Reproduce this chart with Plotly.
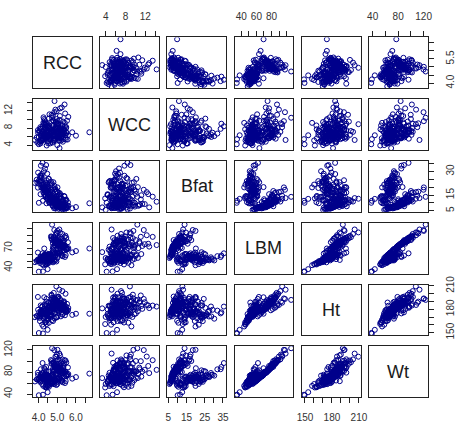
import plotly.graph_objects as go

names = ["RCC", "WCC", "Bfat", "LBM", "Ht", "Wt"]

rcc = [3.96,4.41,4.14,4.11,4.45,4.10,4.31,4.42,4.30,4.51,4.42,4.67,4.30,
       4.40,4.68,4.25,4.52,4.83,4.19,4.36,4.61,4.08,4.73,4.47,4.29,4.90,4.13,4.56,4.34,4.64,4.22,4.79,4.44,4.58,4.16,
       4.03,4.27,3.90,4.38,4.12,4.49,4.05,4.33,3.97,4.21,4.60,4.09,4.42,3.80,4.26,4.15,4.53,4.01,4.37,4.18,4.47,3.93,4.30,
       4.62,4.85,4.54,4.71,4.48,4.93,4.66,4.39,4.77,
       4.34,4.21,4.46,4.12,4.55,4.28,4.40,
       4.58,4.83,4.49,4.72,4.36,4.95,4.60,4.43,4.68,4.51,4.79,
       4.64,4.42,4.87,4.55,
       4.31,4.19,4.50,4.07,4.62,4.25,4.38,
       4.23,4.48,4.01,4.36,
       5.02,4.81,5.20,4.95,5.35,4.68,5.11,4.89,5.44,4.76,5.27,5.06,
       5.15,4.72,5.48,4.90,5.33,5.01,4.66,5.57,4.84,5.22,4.98,5.39,
       5.04,4.88,5.26,4.79,5.13,4.97,5.31,4.70,5.09,4.92,5.18,4.84,5.40,4.99,5.24,
       5.28,5.05,5.46,4.91,5.37,5.12,5.59,4.86,5.21,5.03,5.50,4.96,5.30,
       4.99,5.23,4.75,5.41,5.08,4.83,5.52,5.00,5.17,4.88,5.34,5.06,4.79,5.29,5.12,4.93,5.45,5.02,
       5.25,5.48,5.06,5.80,5.31,6.00,5.14,5.55,5.38,6.72,5.19,
       4.94,5.10,4.80,5.27,
       4.99,5.36,4.77,5.13,4.90,5.42,5.08,4.71,5.24,4.97,5.32,4.85,5.18,5.04,5.46,4.82,5.15]

wcc = [7.5,8.3,5.0,5.3,6.8,4.4,5.3,5.7,8.9,4.4,5.8,7.0,6.5,
       6.2,7.2,5.6,8.4,6.1,5.1,9.3,6.6,7.8,5.9,6.9,10.1,7.4,4.9,6.3,8.0,5.4,7.1,9.7,6.0,11.2,6.7,
       7.3,6.4,5.8,8.6,6.1,7.0,4.7,9.8,6.9,5.5,7.7,8.2,6.6,5.2,10.5,6.3,7.9,5.9,8.8,6.5,7.6,4.6,9.1,
       6.8,5.2,8.0,7.3,6.2,9.4,5.7,7.1,6.4,
       6.7,8.4,5.9,7.8,10.2,6.1,9.0,
       5.3,6.9,4.8,7.5,5.6,8.1,6.2,3.9,7.0,5.0,6.5,
       6.0,7.4,5.5,8.6,
       6.6,5.1,8.3,7.0,4.4,9.2,6.1,
       5.4,6.3,4.2,7.7,
       6.0,7.3,5.6,8.9,6.7,9.5,5.2,7.8,6.4,10.9,7.1,5.8,
       8.2,10.4,6.9,12.3,7.5,9.6,8.0,6.3,11.7,7.7,9.1,13.5,
       7.4,6.2,8.7,5.5,9.9,6.8,7.9,11.1,6.1,8.3,5.7,7.6,9.2,6.5,12.8,
       6.6,8.1,5.3,9.3,7.2,6.0,10.6,7.7,5.1,8.8,6.9,11.9,4.8,
       5.9,7.1,4.6,8.4,6.3,5.2,9.7,4.0,7.5,6.0,5.4,8.9,4.9,6.7,3.3,7.9,5.7,6.8,
       6.6,8.2,5.6,7.0,9.5,6.2,10.8,5.3,7.7,7.0,6.4,
       7.2,5.0,8.5,6.1,
       8.0,6.9,9.8,7.3,6.2,11.4,7.0,8.6,5.8,10.1,7.6,14.3,6.5,9.0,7.9,6.3,12.6]

bfat = [19.75,21.30,19.88,23.66,17.64,15.58,19.99,22.43,17.95,15.07,24.45,18.26,20.10,
        18.5,21.6,16.9,25.4,14.2,19.6,22.8,13.9,27.3,17.2,20.3,15.8,18.9,24.1,16.4,21.0,12.8,19.3,23.2,17.7,14.9,26.0,
        22.1,19.4,24.8,17.0,27.5,20.6,23.5,18.2,29.3,21.4,16.3,25.9,19.8,22.7,20.1,26.8,17.9,24.2,18.6,28.4,21.9,23.0,19.1,
        17.3,20.8,15.6,22.4,18.7,14.1,23.6,16.9,19.5,
        31.9,35.5,28.6,33.7,25.3,30.2,34.1,
        11.3,9.6,13.7,10.8,14.5,12.0,9.9,12.9,11.6,14.0,10.3,
        11.8,9.8,13.2,10.5,
        18.4,21.7,16.2,23.9,15.1,19.9,14.6,
        11.4,12.6,10.1,13.8,
        9.4,11.2,8.1,12.7,7.5,10.3,13.1,9.0,11.8,8.6,10.9,7.9,
        14.6,13.9,12.1,16.9,11.0,19.9,13.5,10.4,18.4,12.8,17.2,14.0,
        9.2,10.8,8.4,11.6,7.7,10.1,9.5,12.3,8.8,10.5,9.0,11.3,8.1,10.2,7.2,
        8.7,10.6,7.4,11.8,6.5,9.9,8.2,12.0,7.1,10.1,6.8,9.3,8.0,
        7.0,6.2,8.1,5.9,7.6,6.6,8.5,5.6,7.3,6.9,8.8,6.4,7.8,6.0,7.2,8.3,6.8,7.5,
        8.0,7.1,9.5,6.6,8.7,7.4,9.2,6.9,8.3,9.8,7.0,
        10.6,8.9,12.4,9.7,
        11.7,14.5,10.2,16.3,12.8,9.4,15.1,13.6,11.0,17.6,12.2,10.8,14.0,16.7,11.5,13.2,15.6]

lbm = [63.32,58.55,55.36,57.18,53.20,53.77,60.17,48.33,54.57,53.42,61.85,51.95,69.45,
       56.2,58.4,57.8,54.1,61.3,55.5,60.0,59.7,52.4,62.1,57.0,58.6,61.9,53.7,60.5,56.1,58.9,55.2,63.8,57.3,61.0,54.9,
       52.6,55.8,50.1,54.2,51.3,57.4,49.7,53.5,52.8,54.0,56.7,51.9,58.9,48.6,55.1,53.0,59.6,50.8,54.9,56.0,53.4,51.6,57.5,
       52.6,50.2,55.9,49.8,54.5,52.1,53.2,57.9,48.3,
       57.8,62.1,53.6,56.4,60.5,51.2,58.7,
       50.5,52.3,47.1,53.6,46.4,49.6,54.0,45.2,51.4,48.8,55.3,
       53.1,49.9,56.9,47.6,
       50.8,45.6,54.3,47.3,52.0,43.9,56.2,
       34.4,37.9,34.0,45.1,
       79.3,86.8,76.2,94.1,73.4,85.2,98.6,80.5,89.0,77.7,91.7,82.4,
       94.0,106.0,85.7,89.8,81.6,96.4,88.0,79.1,97.8,84.5,92.5,87.3,
       79.9,82.3,76.0,85.5,73.9,81.0,78.6,87.4,75.2,83.7,77.3,84.9,74.6,80.2,72.4,
       71.4,74.0,68.3,77.9,66.9,75.5,70.1,79.0,69.2,73.2,67.8,76.1,72.3,
       63.3,59.8,67.7,56.5,65.4,61.2,69.8,54.9,62.9,58.7,71.6,60.4,66.3,57.7,64.0,73.9,59.3,62.0,
       71.8,67.4,76.7,63.5,74.3,65.6,79.9,69.0,72.7,69.5,61.7,
       67.2,62.6,70.2,58.1,
       76.6,81.5,72.1,84.2,78.9,73.3,80.7,83.0,75.3,82.4,77.6,74.8,79.6,85.9,71.0,80.1,76.8]

ht = [195.9,189.7,177.8,185.0,184.6,174.0,186.2,173.8,171.4,179.9,193.4,188.7,195.5,
      176.0,181.5,178.6,172.0,183.9,175.3,185.0,179.5,170.7,186.8,177.2,174.6,180.4,173.3,182.6,176.9,178.1,171.8,188.4,175.9,184.2,174.1,
      176.3,180.2,171.5,174.9,178.0,182.7,168.9,173.7,179.4,175.1,181.3,172.4,186.5,169.8,177.5,176.8,189.0,170.6,174.3,183.6,172.9,171.0,180.9,
      172.7,168.3,176.4,166.0,174.2,170.1,173.4,179.6,164.9,
      178.3,183.5,170.8,174.7,181.9,167.9,176.1,
      171.2,174.6,166.4,176.9,163.2,169.4,178.5,161.0,172.8,168.1,179.7,
      170.5,165.3,175.8,162.7,
      169.9,160.2,175.0,164.8,172.2,157.9,179.1,
      148.9,153.6,149.5,163.0,
      195.3,201.1,191.4,209.4,188.1,198.8,205.2,193.7,200.0,190.3,203.4,196.4,
      188.5,192.1,183.2,185.6,180.4,194.0,186.9,178.7,193.3,182.0,189.9,184.8,
      188.0,191.5,185.7,194.9,183.3,189.6,186.4,197.8,184.1,192.6,187.2,193.8,182.5,190.7,181.6,
      183.0,186.6,179.4,190.9,178.2,188.3,181.7,193.5,180.8,185.9,177.6,189.1,184.4,
      179.6,176.0,184.5,172.3,182.1,177.9,187.0,170.2,180.7,175.4,189.4,178.5,183.8,173.9,181.2,191.8,176.7,179.0,
      180.5,176.2,185.2,172.8,182.9,174.3,188.4,178.6,181.6,174.3,170.9,
      182.0,177.3,186.7,173.1,
      185.3,190.2,182.0,193.6,187.5,180.6,189.0,194.7,184.2,191.7,186.1,183.5,188.6,195.9,179.8,189.9,185.0]

wt = [78.9,74.4,69.1,74.9,64.6,63.7,75.2,62.3,66.5,62.9,81.8,63.4,86.9,
      69.0,74.5,69.6,72.5,71.5,69.0,77.7,69.3,72.1,75.0,71.5,69.6,76.3,70.8,72.4,71.0,67.5,68.4,83.1,69.6,71.7,74.2,
      67.5,69.2,66.6,65.3,70.8,72.3,65.0,65.4,74.7,68.7,67.8,70.0,73.5,62.9,69.0,72.4,72.6,67.0,67.4,78.2,68.4,67.0,71.1,
      63.6,63.4,66.2,64.2,67.0,60.7,69.6,69.7,60.0,
      84.9,96.3,75.1,85.1,81.0,73.4,89.1,
      56.9,57.9,54.6,60.1,54.3,56.4,59.9,51.9,58.2,56.7,61.7,
      60.2,55.3,65.6,53.2,
      62.3,58.2,64.8,62.2,61.3,54.8,65.8,
      38.8,43.4,37.8,52.3,
      87.5,97.8,82.9,107.8,79.4,95.0,113.5,88.5,100.9,85.0,102.9,89.5,
      110.1,123.2,97.5,108.1,91.7,120.3,101.7,88.3,119.8,96.9,111.7,101.5,
      88.0,92.3,83.0,96.7,80.1,90.1,86.9,99.7,82.5,93.5,84.9,95.7,81.2,89.3,78.0,
      78.2,82.8,73.8,88.3,71.6,83.8,76.4,89.8,74.5,81.4,72.7,83.9,78.6,
      68.1,63.8,73.7,60.0,70.8,65.5,76.3,58.2,67.9,63.0,78.5,64.5,71.9,61.4,69.0,80.6,63.6,67.0,
      78.0,72.6,84.8,68.0,81.4,70.8,88.0,74.1,79.3,77.1,66.3,
      75.2,68.7,80.1,64.3,
      86.8,95.3,80.3,100.6,90.5,80.9,95.1,96.1,84.6,100.0,88.4,83.9,92.6,103.1,80.2,92.3,91.0]

# tick positions and the labels R managed to print (others left blank)
tick_vals = {
    "RCC": [4.0, 4.5, 5.0, 5.5, 6.0, 6.5],
    "WCC": [4, 6, 8, 10, 12, 14],
    "Bfat": [5, 10, 15, 20, 25, 30, 35],
    "LBM": [40, 50, 60, 70, 80, 90, 100],
    "Ht": [150, 160, 170, 180, 190, 200, 210],
    "Wt": [40, 60, 80, 100, 120],
}
x_tick_text = {
    "RCC": ["4.0", "", "5.0", "", "6.0", ""],
    "WCC": ["4", "", "8", "", "12", ""],
    "Bfat": ["5", "", "15", "", "25", "", "35"],
    "LBM": ["40", "", "60", "", "80", "", ""],
    "Ht": ["150", "", "", "180", "", "", "210"],
    "Wt": ["40", "", "80", "", "120"],
}
y_tick_text = {
    "RCC": ["4.0", "", "", "5.5", "", ""],
    "WCC": ["4", "", "8", "", "12", ""],
    "Bfat": ["5", "", "15", "", "", "30", ""],
    "LBM": ["40", "", "", "70", "", "", ""],
    "Ht": ["150", "", "", "180", "", "", "210"],
    "Wt": ["40", "", "80", "", "120"],
}

data = [rcc, wcc, bfat, lbm, ht, wt]
lens = [len(d) for d in data]
if len(set(lens)) != 1:
    raise ValueError(f"length mismatch {lens}")

def rng(v):
    lo, hi = min(v), max(v)
    d = (hi - lo) * 0.04
    return [lo - d, hi + d]

ranges = [rng(v) for v in data]

W, H = 456, 423
col_left0, col_step, pw = 28.7, 69.55, 60.8
row_top0, row_step, ph = 29.3, 63.75, 52.4

FONT = "Liberation Sans, Arial, sans-serif"
tick_font = dict(family=FONT, size=10, color="#333333")
line_col = "#222222"

fig = go.Figure()
layout = dict(
    width=W, height=H, margin=dict(l=0, r=0, t=0, b=0),
    paper_bgcolor="white", plot_bgcolor="white", showlegend=False,
)
annotations = []

tick_common = dict(ticks="outside", ticklen=5, tickwidth=1, tickcolor=line_col,
                   tickmode="array", showticklabels=True, tickfont=tick_font)

for r in range(6):
    for c in range(6):
        k = r * 6 + c + 1
        sx = "" if k == 1 else str(k)
        left = col_left0 + c * col_step
        top = row_top0 + r * row_step
        xdom = [left / W, (left + pw) / W]
        ydom = [1 - (top + ph) / H, 1 - top / H]
        base = dict(showgrid=False, zeroline=False, showline=True, mirror=True,
                    linecolor=line_col, linewidth=1, ticks="", showticklabels=False,
                    fixedrange=True)
        xa = dict(domain=xdom, anchor="y" + sx, range=ranges[c], **base)
        ya = dict(domain=ydom, anchor="x" + sx, range=ranges[r], **base)
        vx = names[c]
        vy = names[r]
        if r == 0 and c % 2 == 1:
            xa.update(tick_common, side="top", tickvals=tick_vals[vx], ticktext=x_tick_text[vx],
                      tickangle=0, ticklabelstandoff=7)
        if r == 5 and c % 2 == 0:
            xa.update(tick_common, side="bottom", tickvals=tick_vals[vx], ticktext=x_tick_text[vx],
                      tickangle=0, ticklabelstandoff=6)
        if c == 0 and r % 2 == 1:
            ya.update(tick_common, side="left", tickvals=tick_vals[vy], ticktext=y_tick_text[vy],
                      tickangle=-90, ticklabelstandoff=11)
        if c == 5 and r % 2 == 0:
            ya.update(tick_common, side="right", tickvals=tick_vals[vy], ticktext=y_tick_text[vy],
                      tickangle=-90, ticklabelstandoff=8)
        layout["xaxis" + sx] = xa
        layout["yaxis" + sx] = ya
        if r == c:
            # empty trace so the diagonal panel's box is drawn
            fig.add_trace(go.Scatter(x=[None], y=[None], mode="markers",
                                     xaxis="x" + sx, yaxis="y" + sx, hoverinfo="skip"))
            annotations.append(dict(
                text=names[r], xref="x" + sx + " domain", yref="y" + sx + " domain",
                x=0.5, y=0.5, showarrow=False, xanchor="center", yanchor="middle",
                font=dict(family=FONT, size=18, color="#1a1a1a"),
            ))
        else:
            fig.add_trace(go.Scatter(
                x=data[c], y=data[r], mode="markers", xaxis="x" + sx, yaxis="y" + sx,
                marker=dict(symbol="circle-open", size=5, color="#00008B",
                            line=dict(width=1, color="#00008B")),
                hoverinfo="skip",
            ))

layout["annotations"] = annotations
fig.update_layout(**layout)
fig.write_html("out.html")
